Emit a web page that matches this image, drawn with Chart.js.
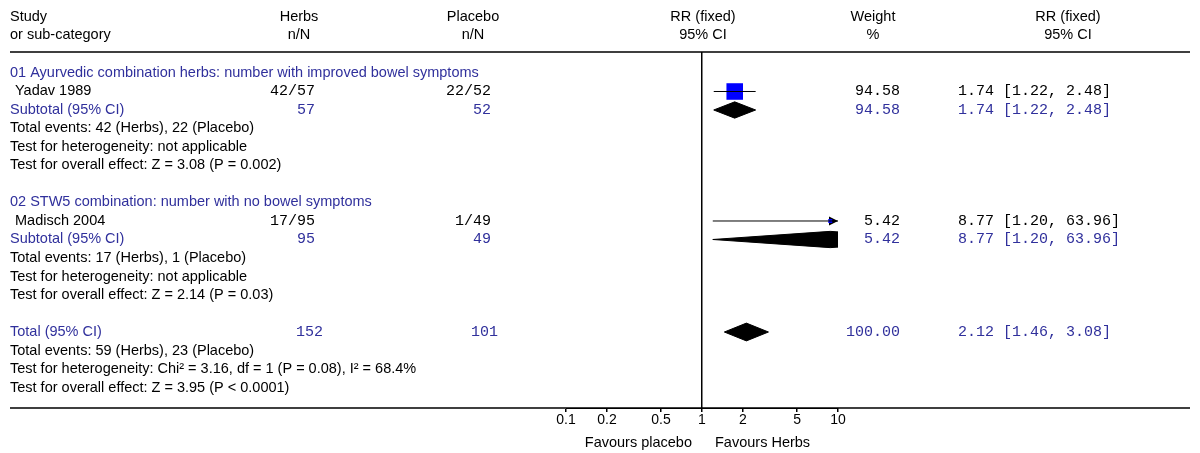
<!DOCTYPE html>
<html>
<head>
<meta charset="utf-8">
<script src="https://cdn.jsdelivr.net/npm/chart.js@4.4.1/dist/chart.umd.min.js"></script>
<style>
  html, body { margin: 0; padding: 0; background: #fff; }
  #wrap { width: 1200px; height: 453px; position: relative; }
</style>
</head>
<body>
<div id="wrap"><canvas id="forest"></canvas></div>
<script>
// Groups and studies
const groupTitles = [
  '01 Ayurvedic combination herbs: number with improved bowel symptoms',
  '02 STW5 combination: number with no bowel symptoms'
];
const studyNames = ['Yadav 1989', 'Madisch 2004'];
const herbsEvents = ['42/57', '17/95'];
const placeboEvents = ['22/52', '1/49'];
const studyRR = [1.74, 8.77];
const studyLow = [1.22, 1.20];
const studyHigh = [2.48, 63.96];
const studyWeight = [94.58, 5.42];

// Subtotals (one per group)
const subHerbsN = [57, 95];
const subPlaceboN = [52, 49];
const subRR = [1.74, 8.77];
const subLow = [1.22, 1.20];
const subHigh = [2.48, 63.96];
const subWeight = [94.58, 5.42];
const subNotes = [
  ['Total events: 42 (Herbs), 22 (Placebo)', 'Test for heterogeneity: not applicable', 'Test for overall effect: Z = 3.08 (P = 0.002)'],
  ['Total events: 17 (Herbs), 1 (Placebo)', 'Test for heterogeneity: not applicable', 'Test for overall effect: Z = 2.14 (P = 0.03)']
];

// Overall
const totalHerbsN = 152;
const totalPlaceboN = 101;
const totalRR = 2.12;
const totalLow = 1.46;
const totalHigh = 3.08;
const totalWeight = 100;
const totalNotes = [
  'Total events: 59 (Herbs), 23 (Placebo)',
  'Test for heterogeneity: Chi\u00B2 = 3.16, df = 1 (P = 0.08), I\u00B2 = 68.4%',
  'Test for overall effect: Z = 3.95 (P < 0.0001)'
];

const xTicks = [0.1, 0.2, 0.5, 1, 2, 5, 10];
const xLabels = ['Favours placebo', 'Favours Herbs'];

// row layout (one row = one text line)
const groupRow = g => g * 7 + 1;
const studyRow = g => groupRow(g) + 1;
const subRow = g => groupRow(g) + 2;
const totalRow = 15;

const BLUE = '#30309c';
const SANS = '14.5px "Liberation Sans", Arial, sans-serif';
const MONO = '15px "Liberation Mono", "Courier New", monospace';
const xMin = xTicks[0], xMax = xTicks[xTicks.length - 1];

function ciText(rr, lo, hi) {
  return rr.toFixed(2) + ' [' + lo.toFixed(2) + ', ' + hi.toFixed(2) + ']';
}

// diamond outline, clipped to the axis range in log space
function diamond(est, lo, hi, row, h) {
  const L = Math.log10;
  const knots = [[lo, 0], [est, h], [hi, 0]];
  const top = [];
  for (let i = 0; i < 2; i++) {
    const [x0, h0] = knots[i], [x1, h1] = knots[i + 1];
    const at = v => h0 + (h1 - h0) * (L(v) - L(x0)) / (L(x1) - L(x0));
    const a = Math.max(x0, xMin), b = Math.min(x1, xMax);
    if (a >= b) continue;
    if (!top.length) top.push([a, at(a)]);
    top.push([b, at(b)]);
  }
  const up = top.map(([x, d]) => ({ x: x, y: row - d }));
  const down = top.slice().reverse().map(([x, d]) => ({ x: x, y: row + d }));
  return up.concat(down);
}

const datasets = [];

// weight squares
datasets.push({
  type: 'scatter',
  data: studyRR.map((v, i) => ({ x: v, y: studyRow(i) })),
  pointStyle: 'rect',
  pointRadius: studyWeight.map(w => 11.7 * Math.sqrt(w / 94.58)),
  backgroundColor: '#0000ff',
  borderColor: '#0000ff',
  borderWidth: 0,
  order: 3
});

// confidence interval lines
studyRR.forEach((v, i) => {
  datasets.push({
    type: 'line',
    data: [{ x: studyLow[i], y: studyRow(i) }, { x: studyHigh[i], y: studyRow(i) }],
    borderColor: '#000',
    borderWidth: 1,
    pointRadius: 0,
    fill: false,
    order: 1
  });
});

// diamonds
const diamonds = subRR.map((v, i) => diamond(v, subLow[i], subHigh[i], subRow(i), 0.44));
diamonds.push(diamond(totalRR, totalLow, totalHigh, totalRow, 0.48));
diamonds.forEach(pts => {
  datasets.push({
    type: 'line',
    data: pts,
    borderColor: '#000',
    backgroundColor: '#000',
    borderWidth: 1,
    pointRadius: 0,
    tension: 0,
    fill: 'shape',
    order: 2
  });
});

const tablePlugin = {
  id: 'forestTable',
  beforeDatasetsDraw(chart) {
    const { ctx, chartArea, scales: { y } } = chart;
    // arrows where CI runs off the axis
    ctx.save();
    ctx.fillStyle = '#000';
    studyHigh.forEach((hi, i) => {
      if (hi <= xMax) return;
      const py = y.getPixelForValue(studyRow(i));
      const px = chartArea.right;
      ctx.beginPath();
      ctx.moveTo(px, py);
      ctx.lineTo(px - 9, py - 4.5);
      ctx.lineTo(px - 9, py + 4.5);
      ctx.closePath();
      ctx.fill();
    });
    ctx.restore();
  },
  afterDraw(chart) {
    const { ctx, chartArea, scales: { x, y } } = chart;
    const put = (txt, px, row, align, color, font) => {
      ctx.font = font || SANS;
      ctx.fillStyle = color || '#000';
      ctx.textAlign = align || 'left';
      ctx.textBaseline = 'middle';
      ctx.fillText(txt, px, typeof row === 'number' ? y.getPixelForValue(row) : row.px);
    };
    ctx.save();

    // header
    const head = [
      ['Study', 'or sub-category', 10, 'left'],
      ['Herbs', 'n/N', 299, 'center'],
      ['Placebo', 'n/N', 473, 'center'],
      ['RR (fixed)', '95% CI', 703, 'center'],
      ['Weight', '%', 873, 'center'],
      ['RR (fixed)', '95% CI', 1068, 'center']
    ];
    head.forEach(([a, b, px, al]) => {
      put(a, px, { px: 17 }, al);
      put(b, px, { px: 35 }, al);
    });

    // rules
    ctx.strokeStyle = '#000';
    ctx.lineWidth = 1.5;
    ctx.beginPath();
    ctx.moveTo(10, chartArea.top);
    ctx.lineTo(1190, chartArea.top);
    ctx.moveTo(10, chartArea.bottom);
    ctx.lineTo(1190, chartArea.bottom);
    ctx.stroke();

    // groups
    groupTitles.forEach((t, g) => {
      put(t, 10, groupRow(g), 'left', BLUE);
      put(studyNames[g], 15, studyRow(g));
      put(herbsEvents[g], 315, studyRow(g), 'right', '#000', MONO);
      put(placeboEvents[g], 491, studyRow(g), 'right', '#000', MONO);
      put(studyWeight[g].toFixed(2), 900, studyRow(g), 'right', '#000', MONO);
      put(ciText(studyRR[g], studyLow[g], studyHigh[g]), 958, studyRow(g), 'left', '#000', MONO);

      put('Subtotal (95% CI)', 10, subRow(g), 'left', BLUE);
      put(String(subHerbsN[g]), 315, subRow(g), 'right', BLUE, MONO);
      put(String(subPlaceboN[g]), 491, subRow(g), 'right', BLUE, MONO);
      put(subWeight[g].toFixed(2), 900, subRow(g), 'right', BLUE, MONO);
      put(ciText(subRR[g], subLow[g], subHigh[g]), 958, subRow(g), 'left', BLUE, MONO);
      subNotes[g].forEach((n, k) => put(n, 10, subRow(g) + 1 + k));
    });

    // overall
    put('Total (95% CI)', 10, totalRow, 'left', BLUE);
    put(String(totalHerbsN), 323, totalRow, 'right', BLUE, MONO);
    put(String(totalPlaceboN), 498, totalRow, 'right', BLUE, MONO);
    put(totalWeight.toFixed(2), 900, totalRow, 'right', BLUE, MONO);
    put(ciText(totalRR, totalLow, totalHigh), 958, totalRow, 'left', BLUE, MONO);
    totalNotes.forEach((n, k) => put(n, 10, totalRow + 1 + k));

    // favours labels
    const one = x.getPixelForValue(1);
    put(xLabels[0], one - 10, { px: 443 }, 'right');
    put(xLabels[1], one + 13, { px: 443 }, 'left');
    ctx.restore();
  }
};

new Chart(document.getElementById('forest'), {
  type: 'line',
  data: { datasets: datasets },
  options: {
    responsive: true,
    maintainAspectRatio: false,
    animation: false,
    events: [],
    layout: { padding: { left: 566, right: 362, top: 52, bottom: 0 } },
    plugins: { legend: { display: false }, tooltip: { enabled: false } },
    scales: {
      x: {
        type: 'logarithmic',
        min: xMin,
        max: xMax,
        afterBuildTicks: scale => { scale.ticks = xTicks.map(v => ({ value: v })); },
        afterFit: scale => { scale.height = 45; },
        ticks: {
          autoSkip: false,
          maxRotation: 0,
          padding: 0,
          color: '#000',
          font: { family: '"Liberation Sans", Arial, sans-serif', size: 14 },
          callback: v => String(v)
        },
        grid: {
          drawOnChartArea: true,
          color: c => (c.tick && c.tick.value === 1 ? '#000' : 'rgba(0,0,0,0)'),
          lineWidth: 1.5,
          tickColor: '#000',
          tickLength: 4
        },
        border: { display: true, color: '#000' }
      },
      y: {
        type: 'linear',
        display: false,
        reverse: true,
        min: -0.135,
        max: 19.108
      }
    }
  },
  plugins: [tablePlugin]
});
</script>
</body>
</html>
